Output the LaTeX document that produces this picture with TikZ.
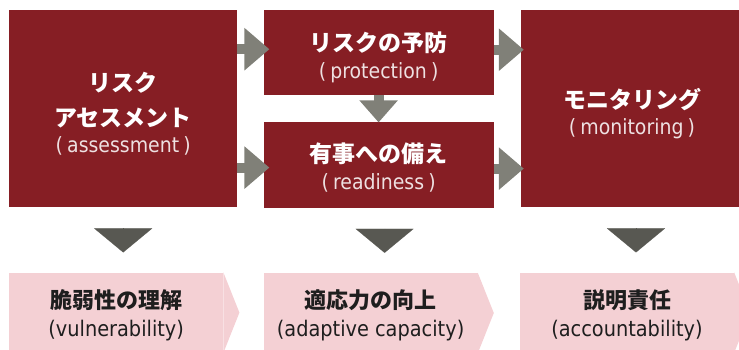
\documentclass[tikz,border=0pt]{standalone}
\usepackage{fontspec}
\setmainfont{Noto Sans CJK JP}
\newfontfamily\latinfont{DejaVu Sans Condensed}
\usetikzlibrary{positioning,arrows.meta}
\definecolor{riskred}{RGB}{134,30,36}
\definecolor{goalpink}{RGB}{244,208,212}
\definecolor{flowgray}{RGB}{128,128,120}
\definecolor{dropgray}{RGB}{88,88,82}
\definecolor{engtop}{RGB}{238,224,225}
\definecolor{goaltext}{RGB}{30,30,30}
\newcommand{\engl}[1]{{\mdseries\latinfont\fontsize{21}{28}\selectfont\color{engtop}(\hspace{0.2em}#1\hspace{0.2em})}}
\newcommand{\engb}[1]{{\mdseries\latinfont\fontsize{21.5}{28}\selectfont(#1)}}
\newcommand{\lift}[1]{\rule{0pt}{#1}}
\tikzset{
    riskbox/.style={
           rectangle,
           fill=riskred,
           text=white,
           inner sep=0pt,
           align=center,
           font=\fontsize{23}{35}\selectfont\bfseries,
           },
    goalbox/.style={
           rectangle,
           fill=goalpink,
           text=goaltext,
           inner sep=0pt,
           minimum width=214pt,
           minimum height=80pt,
           align=center,
           font=\fontsize{22}{28}\selectfont\bfseries,
           },
    flow/.style={
           draw=flowgray,
           line width=10pt,
           -{Triangle[length=25pt,width=41pt]},
           },
    drop/.style={
           draw=dropgray,
           fill=dropgray,
           line width=0.1pt,
           shorten <=21pt,
           shorten >=20pt,
           -{Triangle[length=24pt,width=58pt]},
           },
}
\begin{document}
\begin{tikzpicture}[x=1pt,y=-1pt]
 \useasboundingbox (0,0) rectangle (739,349);

 % risk steps
 \node[riskbox,
 anchor=north west,
 minimum width=228pt,
 minimum height=197pt] (ASSESS) at (9,10)
 {\lift{30pt}リスク\\アセスメント\\[-9pt]\engl{assessment}};

 \node[riskbox,
 right=26pt of ASSESS.north east,
 anchor=north west,
 minimum width=230pt,
 minimum height=85pt] (PROTECT)
 {\lift{28pt}リスクの予防\\[-8pt]\engl{protection}};

 \node[riskbox,
 below=26pt of PROTECT,
 minimum width=230pt,
 minimum height=86pt] (READY)
 {\lift{26pt}有事への備え\\[-8pt]\engl{readiness}};

 \node[riskbox,
 right=27pt of PROTECT.north east,
 anchor=north west,
 minimum width=222pt,
 minimum height=197pt] (MONITOR)
 {\lift{30pt}モニタリング\\[-9pt]\engl{monitoring}};

 % goals
 \node[goalbox,
 below=65pt of ASSESS.south west,
 anchor=north west] (VULN)
 {\lift{24pt}脆弱性の理解\\\engb{vulnerability}};

 \node[goalbox,
 below=65pt of READY.south west,
 anchor=north west] (ADAPT)
 {\lift{24pt}適応力の向上\\\engb{adaptive capacity}};

 \node[goalbox,
 below=65pt of MONITOR.south west,
 anchor=north west,
 xshift=-1pt] (ACCOUNT)
 {\lift{24pt}説明責任\\\engb{accountability}};

 \foreach \g in {VULN,ADAPT,ACCOUNT}
   \fill[goalpink] (\g.north east) -- ([xshift=16pt]\g.east) -- (\g.south east) -- cycle;

 % flow between steps
 \draw[flow] ([yshift=3.5pt]ASSESS.east |- PROTECT.west) -- ([xshift=6pt,yshift=3.5pt]PROTECT.west);
 \draw[flow] ([yshift=-3pt]ASSESS.east |- READY.west) -- ([xshift=6pt,yshift=-3pt]READY.west);
 \draw[flow] ([yshift=3pt]PROTECT.east) -- ([xshift=3pt,yshift=3pt]MONITOR.west |- PROTECT.east);
 \draw[flow] ([yshift=-4pt]READY.east) -- ([xshift=3pt,yshift=-4pt]MONITOR.west |- READY.east);
 \draw[flow,-{Triangle[length=22pt,width=37pt]}] (PROTECT.south) -- ([yshift=-1pt]READY.north);

 % drops to goals
 \draw[drop] (ASSESS.south) -- (ASSESS.south |- VULN.north);
 \draw[drop] ([xshift=6pt]READY.south) -- ([xshift=6pt]READY.south |- ADAPT.north);
 \draw[drop] ([xshift=4pt]MONITOR.south) -- ([xshift=4pt]MONITOR.south |- ACCOUNT.north);
\end{tikzpicture}
\end{document}
